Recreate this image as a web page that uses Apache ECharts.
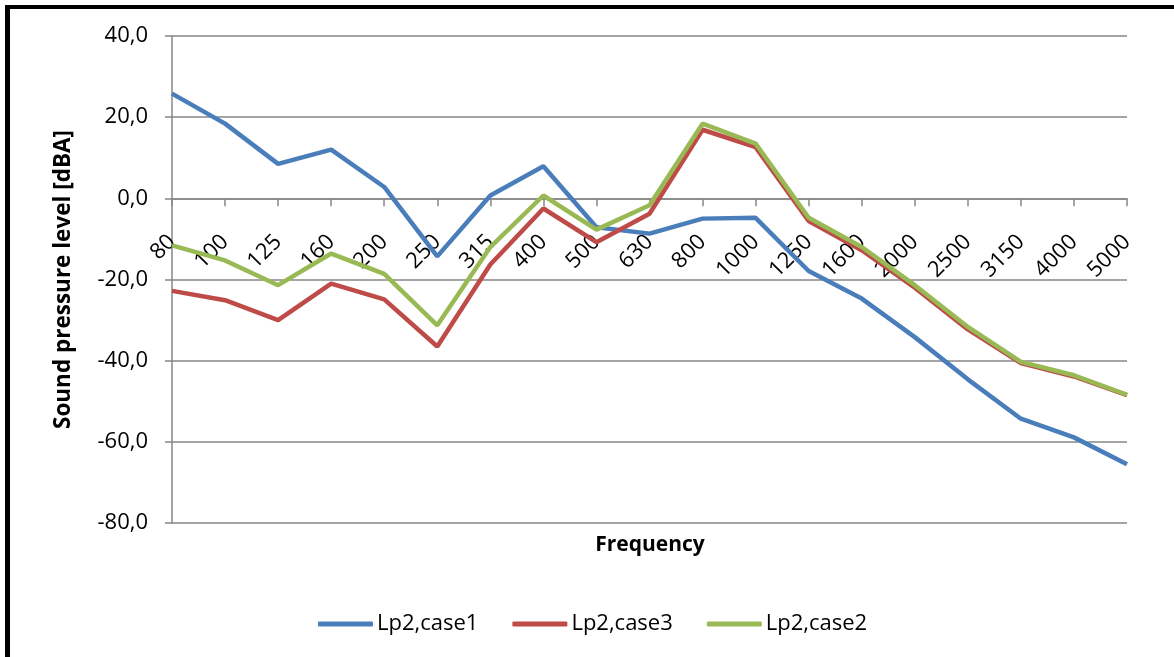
<!DOCTYPE html>
<html>
<head>
<meta charset="utf-8">
<script src="https://cdn.jsdelivr.net/npm/echarts@6/dist/echarts.min.js"></script>
<style>
  body { margin: 0; background: #fff; }
  #wrap { position: relative; width: 1174px; height: 657px; }
  #main { width: 1174px; height: 657px; }
  #frame {
    position: absolute; left: 5px; top: 5px; width: 1180px; height: 648px;
    border-left: 5px solid #000; border-top: 4px solid #000; border-bottom: 3px solid #000;
    pointer-events: none;
  }
</style>
</head>
<body>
<div id="wrap">
  <div id="main"></div>
  <div id="frame"></div>
</div>
<script>
const freqs = ['80', '100', '125', '160', '200', '250', '315', '400', '500', '630',
  '800', '1000', '1250', '1600', '2000', '2500', '3150', '4000', '5000'];

const case1 = [25.8, 18.4, 8.5, 12.0, 2.8, -14.3, 0.7, 7.9, -7.1, -8.7,
  -5.0, -4.8, -17.9, -24.7, -34.2, -44.6, -54.3, -58.9, -65.5];
const case3 = [-22.8, -25.1, -30.0, -21.0, -24.9, -36.5, -16.3, -2.5, -10.8, -3.8,
  16.9, 12.6, -5.6, -12.8, -22.0, -32.3, -40.6, -43.9, -48.5];
const case2 = [-11.6, -15.3, -21.4, -13.6, -18.6, -31.3, -12.0, 0.7, -7.7, -1.7,
  18.4, 13.5, -4.8, -12.0, -21.4, -31.7, -40.3, -43.6, -48.4];

const seriesNames = ['Lp2,case1', 'Lp2,case3', 'Lp2,case2'];
const colors = ['#4a7ebb', '#be4b48', '#98b954'];

const chart = echarts.init(document.getElementById('main'));
const font = 'Open Sans';

// y range drawn by the grid, used to shift the x axis up onto y = 0
const yMin = -80, yMax = 40;
const gridTop = 36, gridBottom = 134;
const plotH = 657 - gridTop - gridBottom;
const zeroOffset = -plotH * (0 - yMin) / (yMax - yMin);

function lineSeries(name, data, color) {
  return {
    name: name,
    type: 'line',
    data: data,
    symbol: 'none',
    lineStyle: {color: color, width: 4.5},
    itemStyle: {color: color},
    emphasis: {disabled: true},
    z: 3,
    animation: false
  };
}

const option = {
  animation: false,
  grid: {left: 172, right: 47, top: gridTop, bottom: gridBottom},
  graphic: [{
    type: 'text',
    x: 650,
    y: 545,
    style: {
      text: 'Frequency',
      fontFamily: font, fontWeight: 'bold', fontSize: 21, fill: '#000',
      align: 'center', verticalAlign: 'middle'
    }
  }],
  legend: {
    bottom: 22,
    left: 318,
    padding: 0,
    icon: 'roundRect',
    itemWidth: 55,
    itemHeight: 5,
    itemGap: 34,
    data: seriesNames,
    textStyle: {fontFamily: font, fontSize: 22, color: '#000', padding: [0, 0, 0, -1]}
  },
  xAxis: {
    type: 'category',
    data: freqs,
    boundaryGap: false,
    position: 'bottom',
    offset: zeroOffset,
    axisLine: {onZero: false, lineStyle: {color: '#878787', width: 1.5}},
    axisTick: {show: true, length: 8, alignWithLabel: true, lineStyle: {color: '#878787', width: 1.5}},
    axisLabel: {
      rotate: 45,
      interval: 0,
      margin: 40,
      fontFamily: font,
      fontSize: 22,
      color: '#000'
    },
    splitLine: {show: false}
  },
  yAxis: {
    type: 'value',
    min: yMin,
    max: yMax,
    interval: 20,
    name: 'Sound pressure level [dBA]',
    nameLocation: 'middle',
    nameGap: 97,
    nameTextStyle: {fontFamily: font, fontWeight: 'bold', fontSize: 22.5, color: '#000'},
    axisLine: {show: true, lineStyle: {color: '#878787', width: 1.5}},
    axisTick: {show: true, length: 7, lineStyle: {color: '#878787', width: 1.5}},
    axisLabel: {
      margin: 24,
      fontFamily: font,
      fontSize: 22,
      color: '#000',
      formatter: (v) => v.toFixed(1).replace('.', ',')
    },
    splitLine: {lineStyle: {color: '#878787', width: 1.5}}
  },
  series: [
    lineSeries(seriesNames[0], case1, colors[0]),
    lineSeries(seriesNames[1], case3, colors[1]),
    lineSeries(seriesNames[2], case2, colors[2])
  ]
};

chart.setOption(option);
</script>
</body>
</html>
